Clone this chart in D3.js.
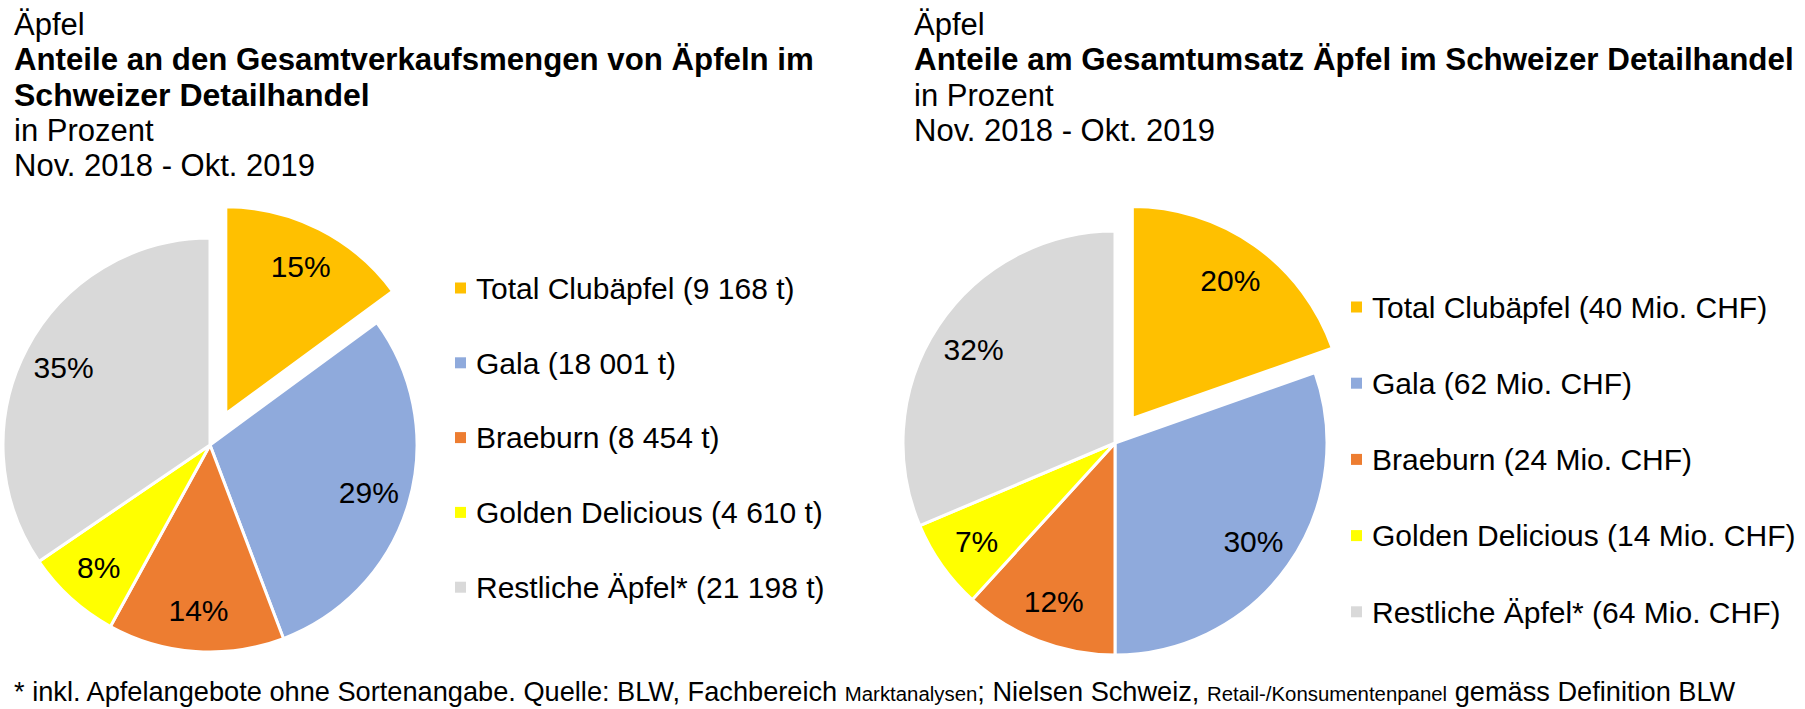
<!DOCTYPE html>
<html>
<head>
<meta charset="utf-8">
<script src="https://cdn.jsdelivr.net/npm/d3@7"></script>
<style>
  body { margin: 0; background: #fff; }
  text { font-family: "Liberation Sans", Arial, sans-serif; fill: #000; }
</style>
</head>
<body>
<svg id="chart" width="1805" height="709"></svg>
<script>
const categories = ["Total Clubäpfel", "Gala", "Braeburn", "Golden Delicious", "Restliche Äpfel*"];
const sliceColors = ["#FFC000", "#8FAADC", "#ED7D31", "#FFFF00", "#D9D9D9"];

// Verkaufsmengen in Tonnen
const volumeTonnes = [9168, 18001, 8454, 4610, 21198];
const volumeShareLabels = [15, 29, 14, 8, 35];

// Umsatz in Mio. CHF
const revenueMioCHF = [40, 62, 24, 14, 64];
const revenueShareLabels = [20, 30, 12, 7, 32];

const leftTitleLines = ["Äpfel", "Anteile an den Gesamtverkaufsmengen von Äpfeln im", "Schweizer Detailhandel", "in Prozent", "Nov. 2018 - Okt. 2019"];
const leftTitleBold = [false, true, true, false, false];
const rightTitleLines = ["Äpfel", "Anteile am Gesamtumsatz Äpfel im Schweizer Detailhandel", "in Prozent", "Nov. 2018 - Okt. 2019"];
const rightTitleBold = [false, true, false, false];

const footnoteParts = ["* inkl. Apfelangebote ohne Sortenangabe. Quelle: BLW, Fachbereich ", "Marktanalysen", "; Nielsen Schweiz, ", "Retail-/Konsumentenpanel", " gemäss Definition BLW"];
const footnoteSmall = [false, true, false, true, false];

const svg = d3.select("#chart");
const tonnes = v => d3.format(",")(v).replace(/,/g, " ") + " t";
const mioChf = v => `${v} Mio. CHF`;

function drawTitle(lines, bold, x, maxWidth) {
  svg.append("g").selectAll("text")
    .data(lines)
    .join("text")
    .attr("x", x)
    .attr("y", (d, i) => 35 + i * 35.3)
    .attr("font-size", (d, i) => bold[i] ? 32 : 31)
    .attr("font-weight", (d, i) => bold[i] ? "bold" : "normal")
    .text(d => d)
    .each(function() {
      // shrink lines that run wider than the reference box
      const w = this.getComputedTextLength();
      if (w > maxWidth) {
        const size = +d3.select(this).attr("font-size");
        d3.select(this).attr("font-size", size * maxWidth / w);
      }
    });
}

function drawPie({ values, shareLabels, cx, cy, r, explode, legendX, legendY, legendStep, fmt }) {
  const pie = d3.pie().sort(null).value(d => d.value);
  const arcs = pie(values.map((v, i) => ({ value: v, i })));
  const arc = d3.arc().innerRadius(0).outerRadius(r);
  const labelArc = d3.arc().innerRadius(r * 0.8).outerRadius(r * 0.8);

  const offset = d => {
    if (d.data.i !== 0) return [0, 0];
    const mid = (d.startAngle + d.endAngle) / 2;
    return [Math.sin(mid) * explode, -Math.cos(mid) * explode];
  };

  const g = svg.append("g").attr("transform", `translate(${cx},${cy})`);

  const slices = g.selectAll("g.slice")
    .data(arcs)
    .join("g")
    .attr("class", "slice")
    .attr("transform", d => `translate(${offset(d)})`);

  slices.append("path")
    .attr("d", arc)
    .attr("fill", d => sliceColors[d.data.i])
    .attr("stroke", "#fff")
    .attr("stroke-width", 3)
    .attr("stroke-linejoin", "round");

  slices.append("text")
    .attr("transform", d => `translate(${labelArc.centroid(d)})`)
    .attr("text-anchor", "middle")
    .attr("dy", "0.36em")
    .attr("font-size", 30)
    .text(d => `${shareLabels[d.data.i]}%`);

  const y = d3.scaleLinear().domain([0, 1]).range([legendY, legendY + legendStep]);
  const legend = svg.append("g").selectAll("g")
    .data(categories)
    .join("g")
    .attr("transform", (d, i) => `translate(${legendX},${y(i)})`);

  legend.append("rect")
    .attr("x", 0).attr("y", -5.5)
    .attr("width", 11).attr("height", 11)
    .attr("fill", (d, i) => sliceColors[i]);

  legend.append("text")
    .attr("x", 21)
    .attr("dy", "0.36em")
    .attr("font-size", 30)
    .text((d, i) => `${d} (${fmt(values[i])})`);
}

drawTitle(leftTitleLines, leftTitleBold, 14, 800);
drawTitle(rightTitleLines, rightTitleBold, 914, 880);

drawPie({ values: volumeTonnes, shareLabels: volumeShareLabels, cx: 210, cy: 445, r: 207, explode: 35,
  legendX: 455, legendY: 288, legendStep: 74.8, fmt: tonnes });
drawPie({ values: revenueMioCHF, shareLabels: revenueShareLabels, cx: 1115, cy: 443, r: 212, explode: 30,
  legendX: 1351, legendY: 307, legendStep: 76.2, fmt: mioChf });

// footnote: separate pieces laid out one after another, shrunk to fit the reference width
const footWidth = 1722;
const foot = svg.append("g");
const pieces = foot.selectAll("text")
  .data(footnoteParts)
  .join("text")
  .attr("y", 701)
  .attr("font-size", (d, i) => footnoteSmall[i] ? 21 : 28)
  .style("white-space", "pre")
  .text(d => d);

const natural = [];
pieces.each(function() { natural.push(this.getComputedTextLength()); });
const k = Math.min(1, footWidth / d3.sum(natural));
pieces.attr("font-size", (d, i) => (footnoteSmall[i] ? 21 : 28) * k);

let cursor = 14;
pieces.each(function() {
  d3.select(this).attr("x", cursor);
  cursor += this.getComputedTextLength();
});
</script>
</body>
</html>
